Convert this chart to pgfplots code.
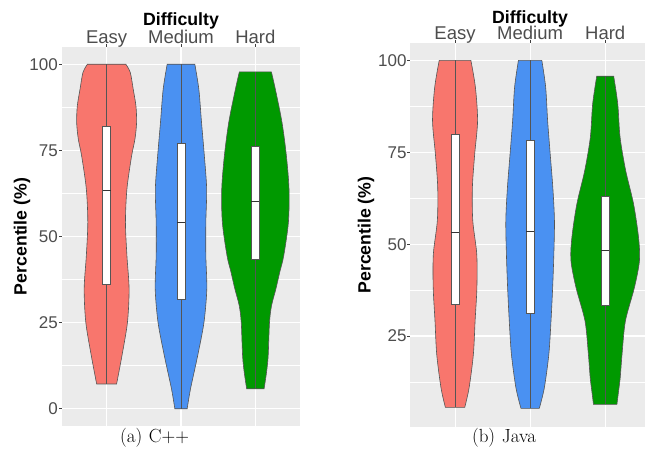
\documentclass[border=0pt]{standalone}
\usepackage{fontspec}
\setsansfont{Liberation Sans}
\usepackage{pgfplots}
\usepgfplotslibrary{fillbetween}
\pgfplotsset{compat=1.18}
\definecolor{panelbg}{HTML}{EBEBEB}
\definecolor{cEasy}{HTML}{F8766D}
\definecolor{cMed}{HTML}{4A91F2}
\definecolor{cHard}{HTML}{009900}
\definecolor{gthirty}{HTML}{4D4D4D}
\definecolor{outl}{HTML}{555555}
\pgfplotsset{
  gg/.style={
    scale only axis, anchor=south west,
    axis background/.style={fill=panelbg},
    axis line style={draw=none},
    xmin=0.4,
    xtick={1,2,3}, xticklabels={Easy,Medium,Hard},
    xtick pos=right, xticklabel pos=right, ytick pos=left,
    tick align=outside, major tick length=3pt, minor tick length=0pt,
    tick style={color=black!75, line width=0.8pt},
    grid=both,
    major grid style={white, line width=1.1pt},
    minor grid style={white, line width=0.5pt},
    /pgf/number format/assume math mode=true,
    yticklabel style={font=\sffamily\fontsize{17}{17}\selectfont, text=gthirty, inner sep=1pt},
    xticklabel style={font=\sffamily\fontsize{18.5}{18.5}\selectfont, text=gthirty, anchor=base, inner sep=0pt},
    ylabel={Percentile (\%)},
  },
  side/.style={draw=none, smooth, tension=0.5},
  vfill/.style={draw=outl, line width=0.6pt},
  whisk/.style={outl, line width=0.6pt},
  boxst/.style={fill=white, draw=outl, line width=0.6pt},
  med/.style={black!80, line width=0.8pt},
}
\begin{document}
\begin{tikzpicture}
% ---------------- (a) C++ ----------------
\begin{axis}[gg, at={(62pt,23pt)}, width=238pt, height=379pt,
  xmax=3.6, ymin=-5, ymax=105,
  ytick={0,25,50,75,100}, minor ytick={12.5,37.5,62.5,87.5},
  every axis y label/.style={at={(axis description cs:-0.168,0.5)}, rotate=90, anchor=center, font=\sffamily\bfseries\fontsize{17.7}{17.7}\selectfont},
]
% Easy
\addplot[side, name path=aER] coordinates {
 (1.134,7.2) (1.206,15.4) (1.280,25.1) (1.302,34.8) (1.273,44.4) (1.253,54.1) (1.273,63.8) (1.336,73.4) (1.381,78.3) (1.403,83.1) (1.394,87.9) (1.358,92.7) (1.318,97.6) (1.258,100)};
\addplot[side, name path=aEL] coordinates {
 (0.866,7.2) (0.794,15.4) (0.720,25.1) (0.698,34.8) (0.727,44.4) (0.747,54.1) (0.727,63.8) (0.664,73.4) (0.619,78.3) (0.597,83.1) (0.606,87.9) (0.642,92.7) (0.682,97.6) (0.742,100)};
\addplot[vfill, fill=cEasy] fill between[of=aER and aEL, reverse=true];
% Medium
\addplot[side, name path=aMR] coordinates {
 (2.083,0) (2.128,5.8) (2.224,15.4) (2.309,25.1) (2.347,34.8) (2.334,44.4) (2.334,54.1) (2.345,63.8) (2.314,73.4) (2.276,83.1) (2.240,92.7) (2.186,100)};
\addplot[side, name path=aML] coordinates {
 (1.917,0) (1.872,5.8) (1.776,15.4) (1.691,25.1) (1.653,34.8) (1.666,44.4) (1.666,54.1) (1.655,63.8) (1.686,73.4) (1.724,83.1) (1.760,92.7) (1.814,100)};
\addplot[vfill, fill=cMed] fill between[of=aMR and aML, reverse=true];
% Hard
\addplot[side, name path=aHR] coordinates {
 (3.117,5.8) (3.150,10.6) (3.172,15.4) (3.190,25.1) (3.218,30) (3.276,34.8) (3.327,39.6) (3.381,44.4) (3.444,54.1) (3.452,63.8) (3.417,73.4) (3.358,83.1) (3.269,92.7) (3.215,97.8)};
\addplot[side, name path=aHL] coordinates {
 (2.883,5.8) (2.850,10.6) (2.828,15.4) (2.810,25.1) (2.782,30) (2.724,34.8) (2.673,39.6) (2.619,44.4) (2.556,54.1) (2.548,63.8) (2.583,73.4) (2.642,83.1) (2.731,92.7) (2.785,97.8)};
\addplot[vfill, fill=cHard] fill between[of=aHR and aHL, reverse=true];
% whiskers
\addplot[whisk] coordinates {(1,7.2) (1,100)};
\addplot[whisk] coordinates {(2,0) (2,100)};
\addplot[whisk] coordinates {(3,5.8) (3,97.8)};
% boxes
\addplot[boxst] coordinates {(0.947,36.2) (1.053,36.2) (1.053,82.1) (0.947,82.1)} -- cycle;
\addplot[boxst] coordinates {(1.947,31.9) (2.053,31.9) (2.053,77.0) (1.947,77.0)} -- cycle;
\addplot[boxst] coordinates {(2.947,43.3) (3.053,43.3) (3.053,76.3) (2.947,76.3)} -- cycle;
% medians
\addplot[med] coordinates {(0.947,63.3) (1.053,63.3)};
\addplot[med] coordinates {(1.947,54.1) (2.053,54.1)};
\addplot[med] coordinates {(2.947,60.1) (3.053,60.1)};
\end{axis}
% ---------------- (b) Java ----------------
\begin{axis}[gg, at={(410pt,22pt)}, width=235pt, height=384pt,
  xmax=3.53, ymin=0.25, ymax=104.75,
  ytick={25,50,75,100}, minor ytick={12.5,37.5,62.5,87.5},
  yticklabel style={inner sep=0.3pt},
  every axis y label/.style={at={(axis description cs:-0.187,0.5)}, rotate=90, anchor=center, font=\sffamily\bfseries\fontsize{17.7}{17.7}\selectfont},
]
% Easy
\addplot[side, name path=bER] coordinates {
 (1.129,5.6) (1.187,10.9) (1.244,20.0) (1.267,29.1) (1.291,38.2) (1.289,47.3) (1.236,56.4) (1.231,65.5) (1.262,74.6) (1.300,83.6) (1.271,92.7) (1.211,100)};
\addplot[side, name path=bEL] coordinates {
 (0.871,5.6) (0.813,10.9) (0.756,20.0) (0.733,29.1) (0.709,38.2) (0.711,47.3) (0.764,56.4) (0.769,65.5) (0.738,74.6) (0.700,83.6) (0.729,92.7) (0.789,100)};
\addplot[vfill, fill=cEasy] fill between[of=bER and bEL, reverse=true];
% Medium
\addplot[side, name path=bMR] coordinates {
 (2.122,5.3) (2.189,10.9) (2.249,20.0) (2.278,29.1) (2.300,38.2) (2.316,47.3) (2.324,56.4) (2.302,65.5) (2.267,74.6) (2.233,83.6) (2.207,92.7) (2.156,100)};
\addplot[side, name path=bML] coordinates {
 (1.878,5.3) (1.811,10.9) (1.751,20.0) (1.722,29.1) (1.700,38.2) (1.684,47.3) (1.676,56.4) (1.698,65.5) (1.733,74.6) (1.767,83.6) (1.793,92.7) (1.844,100)};
\addplot[vfill, fill=cMed] fill between[of=bMR and bML, reverse=true];
% Hard
\addplot[side, name path=bHR] coordinates {
 (3.156,6.4) (3.178,10.0) (3.200,13.7) (3.224,20.0) (3.269,29.1) (3.389,38.2) (3.456,45.5) (3.444,51.8) (3.378,60.9) (3.273,70.0) (3.198,79.1) (3.167,88.2) (3.113,95.7)};
\addplot[side, name path=bHL] coordinates {
 (2.844,6.4) (2.822,10.0) (2.800,13.7) (2.776,20.0) (2.731,29.1) (2.611,38.2) (2.544,45.5) (2.556,51.8) (2.622,60.9) (2.727,70.0) (2.802,79.1) (2.833,88.2) (2.887,95.7)};
\addplot[vfill, fill=cHard] fill between[of=bHR and bHL, reverse=true];
% whiskers
\addplot[whisk] coordinates {(1,5.6) (1,100)};
\addplot[whisk] coordinates {(2,5.3) (2,100)};
\addplot[whisk] coordinates {(3,6.4) (3,95.7)};
% boxes
\addplot[boxst] coordinates {(0.945,33.6) (1.055,33.6) (1.055,80.0) (0.945,80.0)} -- cycle;
\addplot[boxst] coordinates {(1.945,31.1) (2.055,31.1) (2.055,78.4) (1.945,78.4)} -- cycle;
\addplot[boxst] coordinates {(2.945,33.5) (3.055,33.5) (3.055,62.9) (2.945,62.9)} -- cycle;
% medians
\addplot[med] coordinates {(0.945,53.2) (1.055,53.2)};
\addplot[med] coordinates {(1.945,53.6) (2.055,53.6)};
\addplot[med] coordinates {(2.945,48.2) (3.055,48.2)};
\end{axis}
% titles and captions
\node[anchor=base, font=\sffamily\bfseries\fontsize{17.7}{17.7}\selectfont] at (181pt,423pt) {Difficulty};
\node[anchor=base, font=\sffamily\bfseries\fontsize{17.7}{17.7}\selectfont] at (530pt,425.7pt) {Difficulty};
\node[anchor=base, font=\fontsize{19}{19}\selectfont] at (154.5pt,6.3pt) {(a)\hspace{0.35em}C++};
\node[anchor=base, font=\fontsize{19}{19}\selectfont] at (504pt,6.3pt) {(b)\hspace{0.35em}Java};
\pgfresetboundingbox
\path[use as bounding box] (0,0) rectangle (645pt,449pt);
\end{tikzpicture}
\end{document}
